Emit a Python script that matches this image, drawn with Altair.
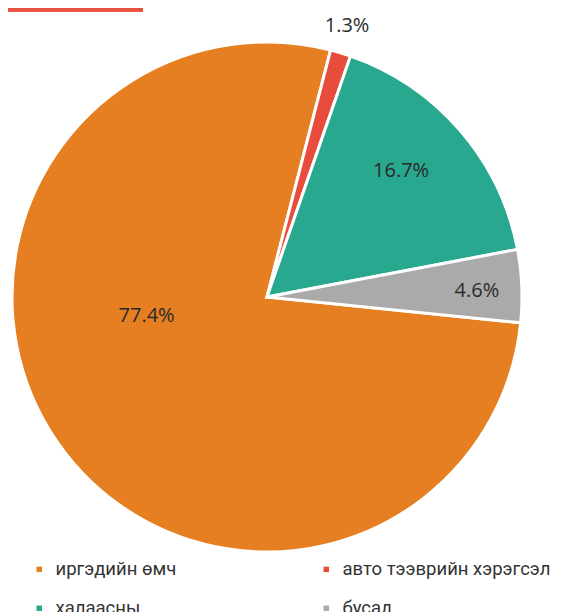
import altair as alt
import pandas as pd

categories = ["иргэдийн өмч", "авто тээврийн хэрэгсэл", "халаасны", "бусад"]
values = [77.4, 1.3, 16.7, 4.6]
labels = ["77.4%", "1.3%", "16.7%", "4.6%"]
colors = ["#E67E22", "#E74C3C", "#28A88E", "#AAAAAA"]

df = pd.DataFrame({"cat": categories, "value": values, "label": labels, "idx": list(range(len(categories)))})

start = 1.672
theta_scale = alt.Scale(domain=[0, 100], range=[start, start + 6.283185])
color = alt.Color("cat:N", scale=alt.Scale(domain=categories, range=colors), sort=categories,
                  legend=alt.Legend(title=None, orient="none", legendX=22, legendY=552, columns=2,
                                    direction="horizontal",
                                    symbolType="square", symbolSize=30, symbolStrokeWidth=0,
                                    labelFont="Roboto", labelFontSize=18.5, labelColor="#333333",
                                    labelOffset=7, columnPadding=140, rowPadding=20, labelLimit=400))

cx, cy = 259, 289

base = alt.Chart(df).transform_window(cum="sum(value)", sort=[alt.SortField("idx")]).transform_calculate(
    mid="datum.cum - datum.value / 2"
)

arcs = alt.Chart(df).mark_arc(outerRadius=255, stroke="white", strokeWidth=3).encode(
    theta=alt.Theta("value:Q", stack=True, scale=theta_scale),
    color=color,
    order=alt.Order("idx:Q"),
    x=alt.value(cx), y=alt.value(cy),
)

label_style = [(0, 122, 0.449), (1, 283, -0.006), (2, 184, -0.042), (3, 210, 0.016)]
text_layers = []
for i, r, off in label_style:
    t = base.transform_filter(alt.datum.idx == i).mark_text(
        radius=r, thetaOffset=off, font="Open Sans", fontSize=20, color="#2a2a2a",
        align="center", baseline="middle"
    ).encode(
        theta=alt.Theta("mid:Q", scale=theta_scale),
        text="label:N",
        x=alt.value(cx), y=alt.value(cy),
    )
    text_layers.append(t)

bar = alt.Chart(df).mark_rule(color="#E8503F", strokeWidth=4).encode(
    x=alt.value(0), x2=alt.value(135), y=alt.value(1.5)
)

chart = alt.layer(arcs, *text_layers, bar).properties(
    width=564, height=604, padding=0, autosize=alt.AutoSizeParams(type="none")
).configure_view(stroke=None)

chart.save("out.html", embed_options={"renderer": "svg", "actions": False})
